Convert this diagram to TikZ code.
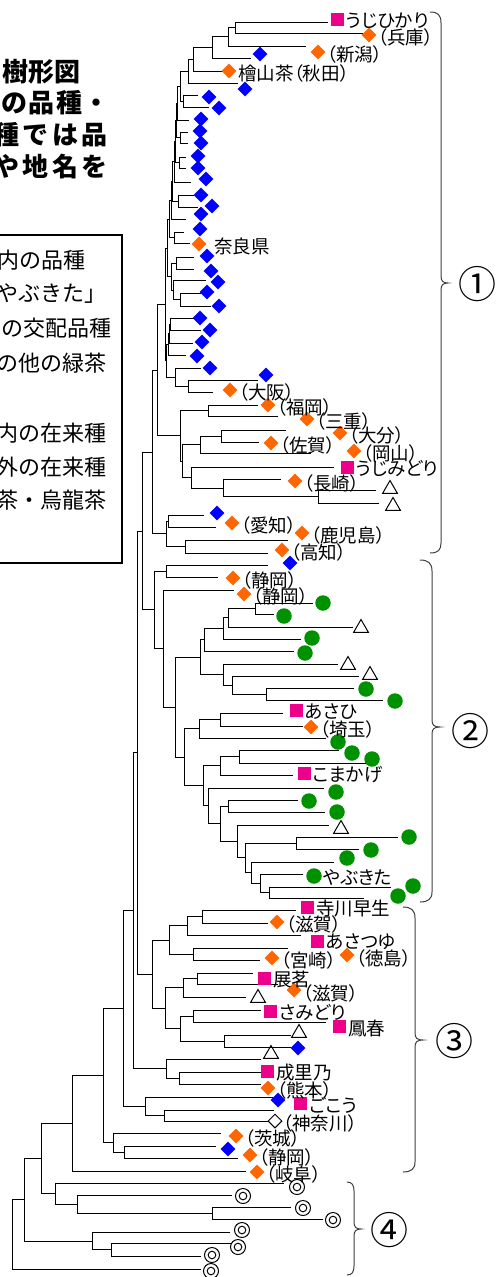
\documentclass[tikz,border=0pt]{standalone}
\usepackage{fontspec}
\usetikzlibrary{shapes.geometric}
\newfontfamily\labf[RawFeature=+palt]{Noto Sans CJK JP}
\newfontfamily\plainf{Noto Sans CJK JP}
\newcommand\br[5]{\draw[tree] (#3,#2) -| (#1,#4) -- (#5,#4);}
\begin{document}
\begin{tikzpicture}[x=1pt,y=-1pt,
  tree/.style={line width=1pt, line cap=rect},
  brc/.style={line width=1pt, draw=black!75},
  bd/.style={diamond, aspect=1, fill=blue, inner sep=0pt, minimum size=15pt},
  od/.style={diamond, aspect=1, fill={rgb,255:red,255;green,102;blue,0}, inner sep=0pt, minimum size=15pt},
  ms/.style={rectangle, fill=magenta, inner sep=0pt, minimum size=13pt},
  gc/.style={circle, fill={rgb,255:red,0;green,145;blue,0}, inner sep=0pt, minimum size=15.5pt},
  tri/.style={regular polygon, regular polygon sides=3, draw, line width=1pt, inner sep=0pt, minimum size=17pt},
  wd/.style={diamond, aspect=1, draw, line width=1pt, fill=white, inner sep=0pt, minimum size=14pt},
  dc/.style={circle, draw, line width=1pt, fill=white, inner sep=0pt, minimum size=15pt,
     path picture={\draw[line width=1pt] (path picture bounding box.center) circle (3.8pt);}},
  lab/.style={font=\labf\fontsize{18.5}{18.5}\selectfont, anchor=west, inner sep=0pt},
  ttl/.style={font=\plainf\bfseries\fontsize{26}{26}\selectfont, inner sep=0pt},
  leg/.style={font=\plainf\fontsize{22}{22}\selectfont, inner sep=0pt, anchor=east},
  num/.style={font=\plainf\fontsize{38}{38}\selectfont, inner sep=0pt}]
\useasboundingbox (0,0) rectangle (496,1277);
\fill[white] (0,0) rectangle (496,1277);

% ---------- title (cropped) ----------
\node[ttl, anchor=west] (h1) at (2,72) {樹形図};
\node[ttl, anchor=east] (h2) at (110,103) {の\kern1.5pt 品\kern1.5pt 種\kern1.5pt ・};
\node[ttl, anchor=east] (h3) at (108,135) {種\kern3.5pt で\kern3.5pt は\kern3.5pt 品};
\node[ttl, anchor=east] (h4) at (108,167) {や\kern3.5pt 地\kern3.5pt 名\kern3.5pt を};

% ---------- legend (cropped) ----------
\draw[line width=1.5pt] (-10,235) rectangle (122,563);
\node[leg] (g1) at (86,260) {内の品種};
\node[leg] (g2) at (107,294) {やぶきた」};
\node[leg] (g3) at (112,328) {の交配品種};
\node[leg] (g4) at (107,363) {の他の緑茶};
\node[leg] (g5) at (107,433) {内の在来種};
\node[leg] (g6) at (107,467) {外の在来種};
\node[leg] (g7) at (107,500) {茶・烏龍茶};

% ---------- cluster 1 ----------
\br{235}{22}{327}{33}{362}
\br{228}{27.5}{235}{46}{305}
\br{212}{36.75}{228}{58}{250}
\br{193}{47.4}{212}{71}{222}
\br{188}{59.2}{193}{83}{237}
\br{183}{95}{197}{107}{208}
\br{180}{71.1}{188}{101}{183}
\br{177.5}{86}{180}{120}{188}
\br{180}{132}{187}{143}{187}
\br{176}{103}{177.5}{137.5}{180}
\br{179}{157}{185}{168}{185}
\br{175}{120}{176}{162.5}{179}
\br{174}{141}{175}{182}{190}
\br{178}{195}{193}{207}{197}
\br{172.5}{161.5}{174}{201}{178}
\br{171}{181}{172.5}{219}{185}
\br{174}{232}{183}{243}{189}
\br{169}{200}{171}{237.5}{174}
\br{176}{257}{193}{269}{193}
\br{180}{293}{200}{306}{210}
\br{173}{280}{205}{299.5}{180}
\br{171}{263}{176}{290}{173}
\br{167}{219}{169}{276.5}{171}
\br{170}{318}{195}{330}{200}
\br{169}{324}{170}{343}{192}
\br{168}{333.5}{169}{355}{185}
\br{188}{380}{257}{392}{212}
\br{175}{368}{200}{386}{188}
\br{166.5}{344}{168}{377}{175}
\br{165}{248}{167}{360.5}{166.5}
\br{208}{405}{257}{416}{277}
\br{221}{430}{285}{442}{258}
\br{200}{436}{221}{453}{310}
\br{318}{490}{375}{503}{378}
\br{223}{479}{280}{496.5}{318}
\br{191}{467}{333}{488}{223}
\br{182}{444.5}{200}{477.5}{191}
\br{180}{410.5}{208}{461}{182}
\br{157}{304}{165}{435.75}{180}
\br{168}{515}{203}{527}{215}
\br{185}{540}{287}{553}{267}
\br{166}{521}{168}{546.5}{185}
\br{152}{370}{157}{533.75}{166}

% ---------- cluster 2 ----------
\br{166}{565}{267}{577}{217}
\br{255}{603}{312}{614}{273}
\br{228}{608.5}{255}{627}{352}
\br{223}{617.75}{228}{639}{300}
\br{204}{628.4}{223}{651}{293}
\br{266}{688}{353}{700}{382}
\br{232}{676}{358}{694}{266}
\br{223}{664}{337}{685}{232}
\br{200}{639.7}{204}{674.5}{223}
\br{220}{713}{282}{726}{302}
\br{199}{719.5}{220}{738}{325}
\br{239}{750}{338}{763}{370}
\br{220}{756.5}{239}{775}{292}
\br{228}{800}{297}{812}{324}
\br{296}{837}{397}{849}{358}
\br{269}{887}{390}{898}{363}
\br{260}{874}{302}{892.5}{269}
\br{251}{862}{333}{883.25}{260}
\br{245}{843}{296}{872.6}{251}
\br{237}{825}{328}{857.8}{245}
\br{220}{806}{228}{841.4}{237}
\br{208}{788}{323}{823.7}{220}
\br{203}{765.75}{220}{805.85}{208}
\br{184}{728.75}{199}{785.8}{203}
\br{175}{657}{200}{757.3}{184}
\br{163}{590}{233}{707}{175}
\br{154}{571}{166}{648.5}{163}
\br{142}{452}{152}{609.75}{154}

% ---------- cluster 3 ----------
\br{202}{910}{295}{923}{267}
\br{187}{916.5}{202}{935}{300}
\br{193}{948}{287}{960}{259}
\br{169}{925.75}{187}{954}{193}
\br{197}{973}{252}{984}{277}
\br{183}{978.5}{197}{997}{245}
\br{193}{1010}{260}{1022}{325}
\br{224}{1035}{290}{1047}{290}
\br{180}{1016}{193}{1041}{224}
\br{165}{987.75}{183}{1028.5}{180}
\br{152}{940}{169}{1008}{165}
\br{137}{531}{142}{974}{152}
\br{179}{1072}{260}{1084}{260}
\br{166}{1059}{260}{1078}{179}
\br{133}{752.5}{137}{1068.5}{166}
\br{164}{1110}{273}{1121}{267}
\br{145}{1097}{272}{1115.5}{164}
\br{123}{910.5}{133}{1106}{145}
\br{124}{1146}{215}{1158}{237}
\br{113}{1133}{220}{1152}{124}
\br{103}{1008}{123}{1142.5}{113}
\br{72}{1075}{103}{1171}{245}

% ---------- cluster 4 ----------
\br{212}{1207}{290}{1219}{322}
\br{77}{1195}{231}{1213}{212}
\br{55}{1183}{283}{1204}{77}
\br{41}{1123}{72}{1193.5}{55}
\br{111}{1243}{230}{1256}{200}
\br{92}{1232}{229}{1249.5}{111}
\br{24}{1158}{41}{1241}{92}
\br{12}{1199.5}{24}{1269}{200}

% ---------- symbols ----------
\foreach \x/\y [count=\i] in {260/54,245/89,209/97,219/108,201/119,200/131,201/143,198/156,198/168,206/179,201/195,212/206,201/214,200/229,207/256,211/271,218/282,207/292,219/306,200/318,210/330,202/342,197/356,210/368,266/375,217/513,290/563,298/1048,278/1100,228/1149}
  \node[bd] (b\i) at (\x,\y) {};
\foreach \x/\y [count=\i] in {369/35,318/52,229/71,199/244,230/390,268/405,307/419,340/433,271/443,354/451,295/481,232/523,302/533,282/550,233/578,244/594,311/727,277/922,272/958,347/955,294/990,268/1088,236/1136,250/1155,257/1172}
  \node[od] (o\i) at (\x,\y) {};
\foreach \x/\y [count=\i] in {337/19,347/467,296/710,304/773,307/907,317/941,264/978,270/1011,339/1026,267/1071,300/1103}
  \node[ms] (m\i) at (\x,\y) {};
\foreach \x/\y [count=\i] in {323/603,284/616,312/638,305/653,366/689,395/701,338/742,352/753,372/759,336/792,309/801,337/812,409/837,371/850,347/858,314/876,413/886,398/896}
  \node[gc] (c\i) at (\x,\y) {};
\foreach \x/\y [count=\i] in {390/489,393/506,361/628,348/665,370/675,341/829,258/998,299/1033,271/1054}
  \node[tri] (r\i) at (\x,\y) {};
\node[wd] (w1) at (275,1121) {};
\foreach \x/\y [count=\i] in {297/1187,243/1196,303/1208,333/1220,242/1230,238/1247,212/1255,211/1271}
  \node[dc] (d\i) at (\x,\y) {};

% ---------- labels ----------
\node[lab] (t1) at (346,21) {うじひかり};
\node[lab] (t2) at (378,37) {（兵庫）};
\node[lab] (t3) at (327,54) {（新潟）};
\node[lab] (t4) at (238,73) {檜山茶（秋田）};
\node[lab] (t5) at (214,246) {奈良県};
\node[lab] (t6) at (239,392) {（大阪）};
\node[lab] (t7) at (277,407) {（福岡）};
\node[lab] (t8) at (316,421) {（三重）};
\node[lab] (t9) at (349,435) {（大分）};
\node[lab] (t10) at (280,445) {（佐賀）};
\node[lab] (t11) at (363,453) {（岡山）};
\node[lab] (t12) at (356,469) {うじみどり};
\node[lab] (t13) at (304,483) {（長崎）};
\node[lab] (t14) at (241,525) {（愛知）};
\node[lab] (t15) at (311,535) {（鹿児島）};
\node[lab] (t16) at (291,552) {（高知）};
\node[lab] (t17) at (242,580) {（静岡）};
\node[lab] (t18) at (253,596) {（静岡）};
\node[lab] (t19) at (305,712) {あさひ};
\node[lab] (t20) at (320,729) {（埼玉）};
\node[lab] (t21) at (313,775) {こまかげ};
\node[lab] (t22) at (323,878) {やぶきた};
\node[lab] (t23) at (316,909) {寺川早生};
\node[lab] (t24) at (286,924) {（滋賀）};
\node[lab] (t25) at (326,942) {あさつゆ};
\node[lab] (t26) at (281,960) {（宮崎）};
\node[lab] (t27) at (356,958) {（徳島）};
\node[lab] (t28) at (273,979) {展茗};
\node[lab] (t29) at (303,993) {（滋賀）};
\node[lab] (t30) at (279,1013) {さみどり};
\node[lab] (t31) at (348,1028) {鳳春};
\node[lab] (t32) at (276,1073) {成里乃};
\node[lab] (t33) at (277,1090) {（熊本）};
\node[lab] (t34) at (309,1105) {ごこう};
\node[lab] (t35) at (283,1123) {（神奈川）};
\node[lab] (t36) at (245,1138) {（茨城）};
\node[lab] (t37) at (259,1157) {（静岡）};
\node[lab] (t38) at (266,1174) {（岐阜）};

% ---------- braces and group numbers ----------
\draw[brc] (430,12) .. controls (438,12) and (441,15) .. (441,23) -- (441,276) .. controls (441,281) and (443,283) .. (448,283) .. controls (443,283) and (441,285) .. (441,290) -- (441,543) .. controls (441,550) and (438,553) .. (430,553);
\draw[brc] (420,560) .. controls (428,560) and (432,563) .. (432,571) -- (432,720) .. controls (432,725) and (434,727) .. (440,727) .. controls (434,727) and (432,729) .. (432,734) -- (432,892) .. controls (432,899) and (428,902) .. (420,902);
\draw[brc] (403,907) .. controls (411,907) and (415,910) .. (415,918) -- (415,1033) .. controls (415,1038) and (417,1040) .. (423,1040) .. controls (417,1040) and (415,1042) .. (415,1047) -- (415,1162) .. controls (415,1169) and (411,1172) .. (403,1172);
\draw[brc] (347,1182) .. controls (352,1182) and (354,1185) .. (354,1191) -- (354,1222) .. controls (354,1227) and (356,1229) .. (361,1229) .. controls (356,1229) and (354,1231) .. (354,1236) -- (354,1266) .. controls (354,1272) and (352,1275) .. (347,1275);
\node[num] (n1) at (477,284) {①};
\node[num] (n2) at (470,731) {②};
\node[num] (n3) at (454,1041) {③};
\node[num] (n4) at (389,1230) {④};
\end{tikzpicture}
\end{document}
